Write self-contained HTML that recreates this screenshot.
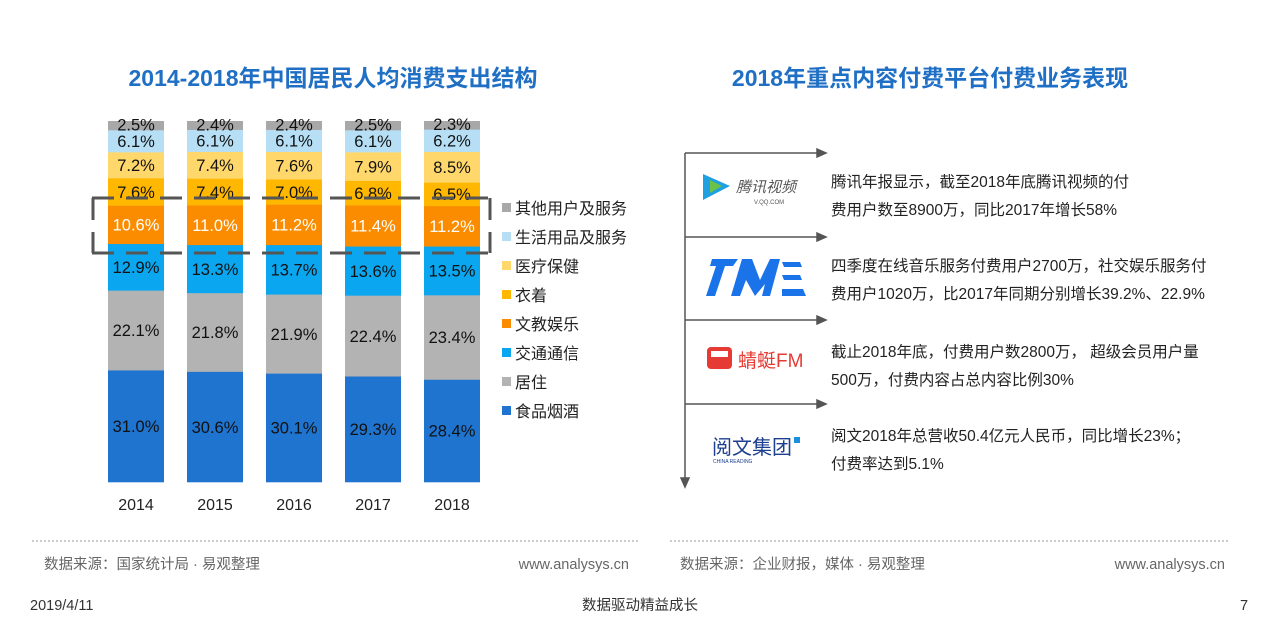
<!DOCTYPE html>
<html><head><meta charset="utf-8"><style>
body{margin:0;background:#fff;width:1280px;height:632px;overflow:hidden;font-family:"Liberation Sans","Noto Sans CJK SC",sans-serif;}
</style></head><body>
<svg id="s" width="1280" height="632" xmlns="http://www.w3.org/2000/svg" font-family="Liberation Sans, Noto Sans CJK SC, sans-serif">
<text x="333" y="86" text-anchor="middle" font-size="23" font-weight="bold" fill="#1f6fc5">2014-2018年中国居民人均消费支出结构</text>
<text x="930" y="86" text-anchor="middle" font-size="23" font-weight="bold" fill="#1f6fc5">2018年重点内容付费平台付费业务表现</text>
<g id="bars"></g>
<g stroke="#555" stroke-width="3" stroke-dasharray="22,12" fill="none">
<path d="M92 198 H490"/><path d="M92 253 H490"/>
<path d="M93 198 V253"/><path d="M490 198 V253"/>
</g>
<g id="legend" font-size="16" fill="#222"></g>
<g font-size="16" fill="#222" text-anchor="middle">
<text x="136" y="510">2014</text><text x="215" y="510">2015</text><text x="294" y="510">2016</text><text x="373" y="510">2017</text><text x="452" y="510">2018</text>
</g>
<g stroke="#555" stroke-width="1.5" fill="#555">
<line x1="685" y1="153" x2="685" y2="480"/><path d="M681 478 L689 478 L685 487Z"/>
<line x1="685" y1="153" x2="818" y2="153"/><path d="M817 149 L826 153 L817 157Z"/>
<line x1="685" y1="237" x2="818" y2="237"/><path d="M817 233 L826 237 L817 241Z"/>
<line x1="685" y1="320" x2="818" y2="320"/><path d="M817 316 L826 320 L817 324Z"/>
<line x1="685" y1="404" x2="818" y2="404"/><path d="M817 400 L826 404 L817 408Z"/>
</g>
<path d="M703 174 L730 186 L703 200Z" fill="#1fa0e0"/><path d="M710 180 L722 186 L710 193Z" fill="#6ac24a"/>
<text x="736" y="192" font-size="15" font-style="italic" fill="#555">腾讯视频</text>
<text x="754" y="204" font-size="6" fill="#555">V.QQ.COM</text>
<g fill="#1a73e8"><path d="M712 259 H738 L733 266 H725 L715 296 H706 L716 266 H710Z"/><path d="M742 259 H752 L760 280 L770 259 H780 L770 296 H762 L765 284 L755 296 L746 280 L740 296 H731Z"/><path d="M782 262 H800 L802 267 H784Z M782 275 H800 L802 280 H784Z M782 289 H803 L806 296 H782Z"/></g>
<rect x="707" y="347" width="25" height="22" rx="4" fill="#e63b35"/><rect x="711" y="351" width="17" height="6" fill="#fff"/>
<text x="738" y="367" font-size="19" fill="#e63b35">蜻蜓FM</text>
<text x="712" y="454" font-size="20" fill="#1d3f8f">阅文集团</text><rect x="794" y="437" width="6" height="6" fill="#1a8fe0"/>
<text x="713" y="463" font-size="5" fill="#1d3f8f">CHINA READING</text>
<g font-size="15.5" fill="#222">
<text x="831" y="187">腾讯年报显示，截至2018年底腾讯视频的付</text>
<text x="831" y="215">费用户数至8900万，同比2017年增长58%</text>
<text x="831" y="271">四季度在线音乐服务付费用户2700万，社交娱乐服务付</text>
<text x="831" y="299">费用户1020万，比2017年同期分别增长39.2%、22.9%</text>
<text x="831" y="357">截止2018年底，付费用户数2800万， 超级会员用户量</text>
<text x="831" y="385">500万，付费内容占总内容比例30%</text>
<text x="831" y="441">阅文2018年总营收50.4亿元人民币，同比增长23%；</text>
<text x="831" y="469">付费率达到5.1%</text>
</g>
<g stroke="#999" stroke-width="1" stroke-dasharray="2,2"><line x1="32" y1="541" x2="640" y2="541"/><line x1="670" y1="541" x2="1230" y2="541"/></g>
<g font-size="14.5" fill="#666">
<text x="44" y="569">数据来源：国家统计局 · 易观整理</text>
<text x="629" y="569" text-anchor="end">www.analysys.cn</text>
<text x="680" y="569">数据来源：企业财报，媒体 · 易观整理</text>
<text x="1225" y="569" text-anchor="end">www.analysys.cn</text>
</g>
<g font-size="14.5" fill="#333">
<text x="30" y="610">2019/4/11</text>
<text x="640" y="610" text-anchor="middle">数据驱动精益成长</text>
<text x="1240" y="610">7</text>
</g>
</svg>
<script>
var data=[[31.0,22.1,12.9,10.6,7.6,7.2,6.1,2.5],[30.6,21.8,13.3,11.0,7.4,7.4,6.1,2.4],[30.1,21.9,13.7,11.2,7.0,7.6,6.1,2.4],[29.3,22.4,13.6,11.4,6.8,7.9,6.1,2.5],[28.4,23.4,13.5,11.2,6.5,8.5,6.2,2.3]];
var cols=["#1e74cf","#b3b3b3","#0aa6ef","#fb8c00","#ffb700","#ffd76a","#b6dff6","#a8a8a8"];
var tc=["#111","#111","#111","#fff","#111","#111","#111","#111"];
var names=["食品烟酒","居住","交通通信","文教娱乐","衣着","医疗保健","生活用品及服务","其他用户及服务"];
var g=document.getElementById("bars"),h="";
data.forEach(function(d,i){var x=108+79*i,sum=d.reduce(function(a,b){return a+b},0),y=482;
d.forEach(function(v,j){var hh=v/sum*361;y-=hh;
h+='<rect x="'+x+'" y="'+y.toFixed(2)+'" width="56" height="'+(hh+0.3).toFixed(2)+'" fill="'+cols[j]+'"/>';
var ty=y+hh/2+6;if(j==7)ty=y+hh/2+5;
h+='<text x="'+(x+28)+'" y="'+ty.toFixed(1)+'" text-anchor="middle" font-size="16.5" fill="'+tc[j]+'">'+v.toFixed(1)+'%</text>';});});
g.innerHTML=h;
var l="";for(var k=0;k<8;k++){var yy=208+29*(7-k);l+='<rect x="502" y="'+(yy-5)+'" width="9" height="9" fill="'+cols[k]+'"/><text x="515" y="'+(yy+6)+'">'+names[k]+'</text>';}
document.getElementById("legend").innerHTML=l;
</script>
</body></html>
